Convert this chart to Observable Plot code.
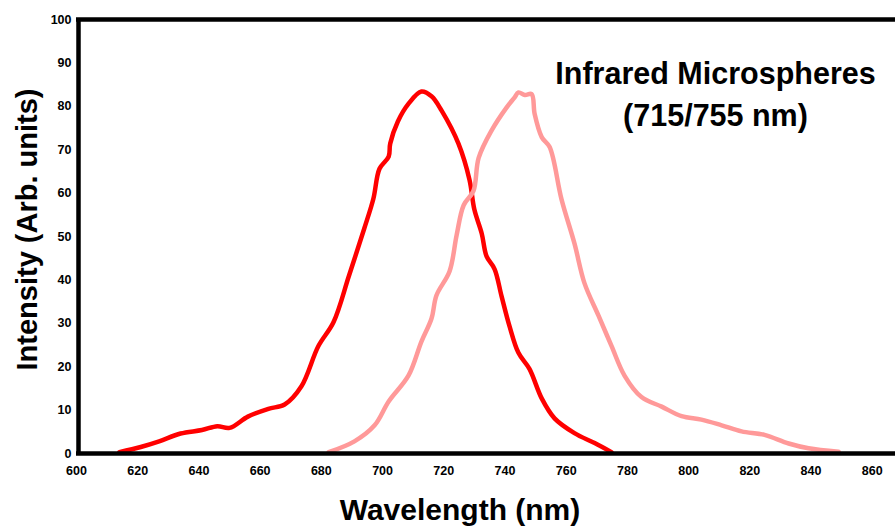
<!DOCTYPE html>
<html>
<head>
<meta charset="utf-8">
<script src="https://cdn.jsdelivr.net/npm/d3@7"></script>
<script src="https://cdn.jsdelivr.net/npm/@observablehq/plot@0.6"></script>
<style>
  html, body { margin: 0; padding: 0; background: #fff; }
  #chart svg { display: block; }
</style>
</head>
<body>
<div id="chart"></div>
<script>
// Excitation (red) series
const redNm = [614, 621, 627, 634, 641, 646, 650, 656, 662.7, 668, 673.5, 679, 684, 689, 694, 697, 699, 702, 702.5, 705, 708.5, 712.7, 716, 719.3, 724.8, 728.4, 730, 732.4, 734, 736.6, 738.9, 741.5, 744.4, 748, 752, 756.2, 762.7, 769.3, 774.8];
const redVal = [0.3, 1.5, 2.8, 4.6, 5.4, 6.3, 5.9, 8.5, 10.3, 11.3, 15.5, 24.7, 30.3, 40.9, 51.8, 58.7, 65.6, 68.4, 71.4, 76.5, 80.6, 83.4, 82.3, 79, 71.4, 63.1, 56.2, 50.7, 45.4, 42.5, 36.2, 29.3, 23.2, 19.5, 12.7, 8.1, 4.7, 2.4, 0.3];
// Emission (pink) series
const pinkNm = [682.4, 690.8, 697.4, 702, 708.5, 712.7, 716, 717.6, 721.9, 724.2, 726.5, 729.7, 731.4, 735.6, 740.5, 743.1, 744.4, 746.5, 748.7, 749.7, 752, 754.6, 758.5, 762.7, 766, 770.6, 774.8, 779.1, 784.6, 791.2, 797.7, 804.2, 810.8, 817.3, 824.8, 832.7, 839.2, 849];
const pinkVal = [0.3, 2.8, 6.5, 12, 18, 25.8, 31.1, 36.4, 42, 50.3, 57.2, 60.5, 68.1, 74.4, 79.7, 82, 83.2, 82.6, 82.8, 78.2, 72.9, 70.6, 58.5, 48.4, 39.2, 31.7, 24.8, 17.9, 13, 10.8, 8.6, 7.8, 6.5, 5.1, 4.3, 2.3, 1.2, 0.4];

const xTicks = [600, 620, 640, 660, 680, 700, 720, 740, 760, 780, 800, 820, 840, 860];
const yTicks = [0, 10, 20, 30, 40, 50, 60, 70, 80, 90, 100];
const xTitle = "Wavelength (nm)";
const yTitle = "Intensity (Arb. units)";
const chartTitle = "Infrared Microspheres\n(715/755 nm)";

const red = redNm.map((x, i) => ({x, y: redVal[i]}));
const pink = pinkNm.map((x, i) => ({x, y: pinkVal[i]}));

const font = "'Liberation Sans', Arial, sans-serif";

const chart = Plot.plot({
  width: 895,
  height: 527,
  marginLeft: 76,
  marginRight: 0,
  marginTop: 19,
  marginBottom: 74,
  style: {fontFamily: font, fontSize: "12.5px", fontWeight: "bold", color: "#000", background: "#fff", overflow: "visible"},
  x: {domain: [600, 867.6], ticks: xTicks, tickSize: 0, tickPadding: 13, label: null, tickFormat: d => String(d)},
  y: {domain: [0, 100], ticks: yTicks, tickSize: 0, tickPadding: 5, label: null, tickFormat: d => String(d)},
  marks: [
    Plot.line(red, {x: "x", y: "y", stroke: "#ff0000", strokeWidth: 4.5, curve: "catmull-rom"}),
    Plot.line(pink, {x: "x", y: "y", stroke: "#ff9999", strokeWidth: 4.5, curve: "catmull-rom"}),
    Plot.ruleY([0, 100], {stroke: "#000", strokeWidth: 4.5}),
    Plot.ruleX([600], {stroke: "#000", strokeWidth: 4.5, dx: 2}),
    Plot.text([xTitle], {frameAnchor: "bottom", dx: -26, dy: 66, fontSize: 30, fontWeight: "bold", fill: "#000"}),
    Plot.text([yTitle], {frameAnchor: "left", textAnchor: "middle", dx: -49, dy: -7, rotate: -90, fontSize: 29, fontWeight: "bold", fill: "#000"}),
    Plot.text([chartTitle], {frameAnchor: "top-left", dx: 639, dy: 35, textAnchor: "middle", lineAnchor: "top", lineHeight: 1.38, fontSize: 30.5, fontWeight: "bold", fill: "#000"})
  ]
});
document.getElementById("chart").appendChild(chart);
</script>
</body>
</html>
